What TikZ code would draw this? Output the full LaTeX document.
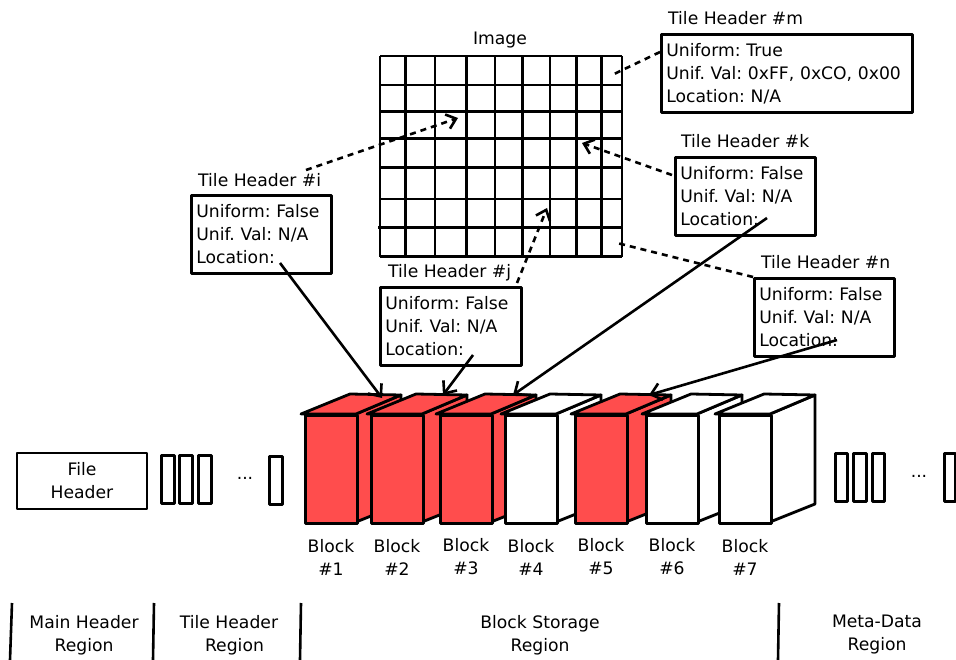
\documentclass[tikz,border=0pt]{standalone}
\usepackage{fontspec}
\setmainfont{DejaVu Sans}
\usetikzlibrary{arrows.meta,calc}
\definecolor{blockred}{RGB}{255,77,77}
\frenchspacing
\begin{document}
\begin{tikzpicture}[x=1pt,y=-1pt,line join=round,
  txt/.style={font=\fontsize{17.2}{23}\selectfont\frenchspacing,inner sep=0pt},
  thbox/.style={draw,line width=2.8pt,txt,align=left,anchor=north west,inner xsep=5pt,inner ysep=4pt,minimum height=78pt},
  thtitle/.style={txt,anchor=base west},
  dashline/.style={line width=2.6pt,dash pattern=on 6pt off 5pt},
  dasharrow/.style={dashline,-{Straight Barb[length=9pt,width=15pt,line width=2.6pt]}},
  locarrow/.style={line width=2.6pt,-{Straight Barb[length=10pt,width=17pt,line width=2.6pt]}},
  slot/.style={draw,line width=3.2pt,anchor=north west,inner sep=0pt},
  blockfront/.style={draw,line width=2.8pt,anchor=north west,inner sep=0pt,minimum width=52pt,minimum height=108pt},
  blockface/.style={draw,line width=2.8pt},
  region/.style={line width=2.6pt},
  lbl/.style={txt,align=center}]
\useasboundingbox (0,0) rectangle (956,660);

% ---------- Image grid ----------
\node[txt] (imglabel) at (500,40) {Image};
\foreach \gx in {380,405.7,435,466.7,495,522.7,550,576.7,601.7,622}
  \draw[line width=2.7pt] (\gx,56) -- (\gx,256.7);
\foreach \gy in {56,85,111.7,138.3,167.3,199,256.7}
  \draw[line width=2.7pt] (380,\gy) -- (622,\gy);
\draw[line width=2.7pt] (378,227.3) -- (622,227.3);

% ---------- Tile headers ----------
\node[thbox,text width=130pt] (hi) at (190,194) {Uniform: False\\Unif. Val: N/A\\Location:};
\node[thtitle] (ti) at (198,187) {Tile Header \#i};
\node[thbox,text width=131pt] (hj) at (379,286) {Uniform: False\\Unif. Val: N/A\\Location:};
\node[thtitle] (tj) at (388,278) {Tile Header \#j};
\node[thbox,text width=130pt] (hk) at (674,156) {Uniform: False\\Unif. Val: N/A\\Location:};
\node[thtitle] (tk) at (681,148) {Tile Header \#k};
\node[thbox,text width=241pt] (hm) at (660,33) {Uniform: True\\Unif. Val: 0xFF, 0xCO, 0x00\\Location: N/A};
\node[thtitle] (tm) at (668,25) {Tile Header \#m};
\node[thbox,text width=130pt] (hn) at (753,277) {Uniform: False\\Unif. Val: N/A\\Location:};
\node[thtitle] (tn) at (761,269) {Tile Header \#n};

% dashed pointers into the image
\coordinate (si) at (306,170);
\coordinate (ei) at (458,118);
\coordinate (sj) at (517,283);
\coordinate (ej) at (547,208);
\coordinate (ek) at (582,143);
\coordinate (em) at (612,75);
\coordinate (en) at (617,243);
\draw[dasharrow] (si) -- (ei);
\draw[dasharrow] (sj) -- (ej);
\draw[dasharrow] ($(hk.north west)+(-2,19)$) -- (ek);
\draw[dashline] ($(hm.north west)+(0,19)$) -- (em);
\draw[dashline] (hn.north west) -- (en);

% ---------- Blocks ----------
\foreach \n/\bx/\bc in {1/304/blockred,2/370/blockred,3/439/blockred,4/504/white,5/574/blockred,6/645/white,7/718/white}{
  \draw[blockface,fill=\bc] (\bx+52,414) -- (\bx+97,395) -- (\bx+97,504) -- (\bx+52,522) -- cycle;
  \draw[blockface,fill=\bc] (\bx-3,414) -- (\bx+46,394) -- (\bx+97,395) -- (\bx+52,414) -- cycle;
  \node[blockfront,fill=\bc] (b\n) at (\bx,414) {};
  \node[lbl] (bl\n) at (\bx+27,557) {Block\\\#\n};
}

% Location arrows
\draw[locarrow] ($(hi.north west)+(90,69)$) -- ($(b1.north west)+(78,-16)$);
\draw[locarrow] ($(hj.north west)+(94,69)$) -- ($(b2.north west)+(73,-19)$);
\draw[locarrow] ($(hk.north west)+(93,62)$) -- ($(b3.north west)+(74,-19)$);
\draw[locarrow] ($(hn.north west)+(84,63)$) -- ($(b5.north west)+(75,-19)$);

% ---------- File header and slots ----------
\node[draw,line width=2.8pt,minimum width=130pt,minimum height=56pt,inner sep=0pt,lbl] (fh) at (82,481) {File\\Header};
\node[slot,minimum width=13pt,minimum height=48pt] (s1) at (160,454) {};
\node[slot,minimum width=13pt,minimum height=48pt] (s2) at (178,454) {};
\node[slot,minimum width=13pt,minimum height=48pt] (s3) at (197,454) {};
\node[txt] (d1) at (245,478) {...};
\node[slot,minimum width=13pt,minimum height=48pt] (s4) at (268,455) {};
\node[slot,minimum width=12pt,minimum height=48pt] (m1) at (834,452) {};
\node[slot,minimum width=13pt,minimum height=48pt] (m2) at (852,452) {};
\node[slot,minimum width=12pt,minimum height=48pt] (m3) at (871,452) {};
\node[txt] (d2) at (919,476) {...};
\node[slot,minimum width=11pt,minimum height=48pt] (m4) at (943,452) {};

% ---------- Regions ----------
\draw[region] (12,603) -- (10,660);
\draw[region] (154,603) -- (153,660);
\draw[region] (301,603) -- (300,660);
\draw[region] (779,603) -- (778,660);
\node[lbl] (r1) at (84,635) {Main Header\\Region};
\node[lbl] (r2) at (229,635) {Tile Header\\\ \ Region};
\node[lbl] (r3) at (540,635) {Block Storage\\Region};
\node[lbl] (r4) at (877,635) {Meta-Data\\Region};
\end{tikzpicture}
\end{document}
